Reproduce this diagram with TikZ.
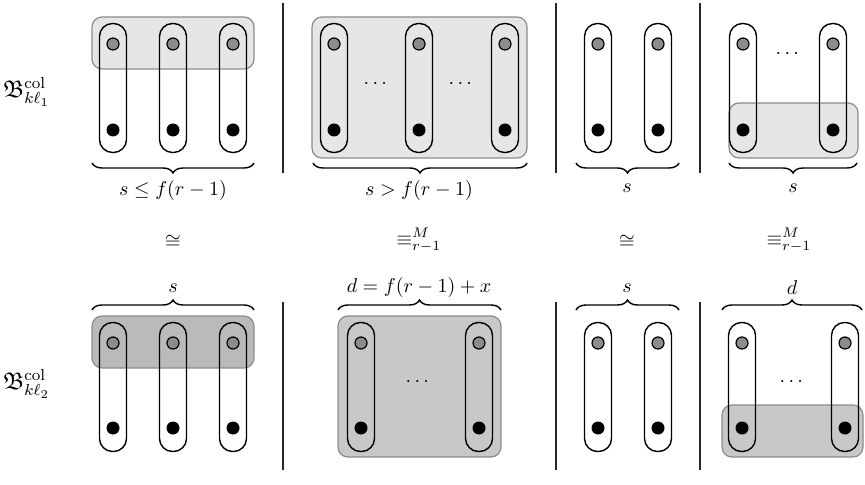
\documentclass[tikz,border=0pt]{standalone}
\usepackage{amsmath,amssymb}
\usetikzlibrary{decorations.pathreplacing}
\definecolor{hlight}{HTML}{E6E6E6}
\definecolor{hdark}{HTML}{BABABA}
\definecolor{hmid}{HTML}{C8C8C8}
\definecolor{dotgray}{HTML}{8C8C8C}

\begin{document}
\begin{tikzpicture}[x=0.5pt, y=-0.5pt,
  pill/.style={draw, line width=0.7pt, rounded corners=6.5pt,
               minimum width=13.5pt, minimum height=64.5pt, inner sep=0pt},
  gdot/.style={circle, draw, line width=0.6pt, fill=dotgray,
               minimum size=6pt, inner sep=0pt},
  bdot/.style={circle, fill=black, minimum size=6.5pt, inner sep=0pt},
  hl/.style={draw=black!45, line width=0.6pt, rounded corners=5pt},
  brc/.style={decorate, decoration={brace, amplitude=5pt}, line width=0.7pt},
  sep/.style={line width=1.1pt, black!85},
]
\useasboundingbox (0,0) rectangle (865,485);

% row labels
\node[anchor=west, font=\large] (gtop) at (-4,92) {$\mathfrak{B}^{\mathrm{col}}_{k\ell_1}$};
\node[anchor=west, font=\large] (gbot) at (-4,384) {$\mathfrak{B}^{\mathrm{col}}_{k\ell_2}$};

% separators
\foreach \x in {283,556,700} {
  \draw[sep] (\x,3) -- (\x,173);
  \draw[sep] (\x,302) -- (\x,470);
}

% highlighted groups (behind the columns)
\draw[hl, fill=hlight] (92,17) rectangle (254,69);
\draw[hl, fill=hlight] (312,17) rectangle (527,158);
\draw[hl, fill=hlight] (729,103) rectangle (858,158);
\draw[hl, fill=hdark] (92,316) rectangle (254,368);
\draw[hl, fill=hmid] (338,316) rectangle (501,457);
\draw[hl, fill=hmid] (722,405) rectangle (863,457);

% columns, top row
\foreach \x [count=\i] in {113,173,233,334,419,505,598,658,743,833} {
  \node[pill] (tp\i) at (\x,88) {};
  \node[gdot] (tg\i) at (\x,44) {};
  \node[bdot] (tb\i) at (\x,130) {};
}
% columns, bottom row
\foreach \x [count=\i] in {113,173,233,361,479,598,658,742,845} {
  \node[pill] (bp\i) at (\x,387) {};
  \node[gdot] (bg\i) at (\x,343) {};
  \node[bdot] (bb\i) at (\x,428) {};
}

% dots
\node (td1) at (377,84) {$\cdots$};
\node (td2) at (462,84) {$\cdots$};
\node (td3) at (789,54) {$\cdots$};
\node (bd1) at (419,382) {$\cdots$};
\node (bd2) at (793,382) {$\cdots$};

% braces, top row
\draw[brc, decoration={mirror}] (92,163) -- (254,163);
\draw[brc, decoration={mirror}] (313,163) -- (527,163);
\draw[brc, decoration={mirror}] (576,163) -- (679,163);
\draw[brc, decoration={mirror}] (729,163) -- (857,163);
\node (ts1) at (173,191) {$s \le f(r-1)$};
\node (ts2) at (419,191) {$s > f(r-1)$};
\node (ts3) at (627,188) {$s$};
\node (ts4) at (793,188) {$s$};

% relations
\node (rel1) at (173,242) {$\cong$};
\node (rel2) at (419,240) {$\equiv^{M}_{r-1}$};
\node (rel3) at (627,242) {$\cong$};
\node (rel4) at (789,240) {$\equiv^{M}_{r-1}$};

% braces, bottom row
\draw[brc] (92,310) -- (254,310);
\draw[brc] (338,310) -- (501,310);
\draw[brc] (576,310) -- (679,310);
\draw[brc] (722,310) -- (862,310);
\node (bs1) at (173,288) {$s$};
\node (bs2) at (419,288) {$d = f(r-1) + x$};
\node (bs3) at (627,288) {$s$};
\node (bs4) at (792,288) {$d$};
\end{tikzpicture}
\end{document}
